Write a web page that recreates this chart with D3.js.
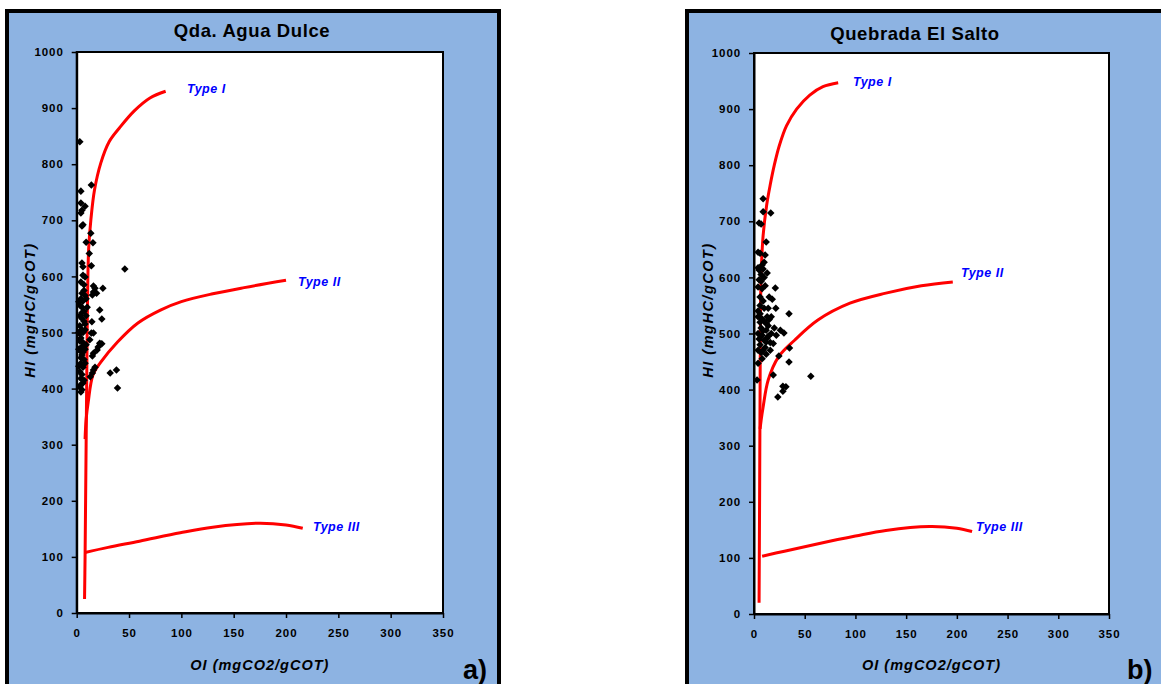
<!DOCTYPE html>
<html><head><meta charset="utf-8">
<script src="https://cdn.jsdelivr.net/npm/d3@7"></script>
<style>body{margin:0;background:#fff;}svg{display:block;}</style>
</head><body>
<svg id="c" width="1161" height="684"></svg>
<script>
// ---------- data ----------
const panelTitles = ["Qda. Agua Dulce", "Quebrada El Salto"];
const panelTags = ["a)", "b)"];
const xTicks = [0, 50, 100, 150, 200, 250, 300, 350];
const yTicks = [0, 100, 200, 300, 400, 500, 600, 700, 800, 900, 1000];
const xTitle = "OI (mgCO2/gCOT)";
const yTitle = "HI (mgHC/gCOT)";
const curveNames = ["Type I", "Type II", "Type III"];

// Panel a) samples
const oiA = [3,14,4,4,8,5,4,6,5,13.5,15.5,9,12,5,14,6,46,6,8,4,7,
  16,17.5,16,19,15,25,5,8,6,3,5,7,22,24,14.5,3,5,7,3,5,3,
  14,16,12.5,22,24,20.5,19.5,16,15,4,6,5,3,5,7,4,6,3,5,4,6,3,5,
  17.5,16,15,13,32,38,39,3,4,2,8,9,2,9,8,2,7,2,9,10,8,6,4,7,5,3,6,4,8];
const hiA = [840,763,752,731,725,718,713,692,690,677,660,661,641,624,619,617,613,602,599,590,585,
  583,579,572,570,567,579,570,566,556,549,545,538,540,524,519,530,525,520,512,505,498,
  499,499,487,481,480,474,469,463,458,490,482,475,468,460,452,445,438,430,425,418,410,405,398,
  438,433,428,421,428,433,401,403,394,470,505,530,555,478,445,440,415,500,560,545,470,500,560,575,535,485,465,455,515];

// Panel b) samples
const oiB = [9,9,16.5,5,7,12,4,6,11,10,8,4,5,9,13,5,7,4,8,21,15,18,6,9,21.5,6,4,34.5,4,8,10,12,14,7,12,26,17,22,4,8,29.5,
  10,12,16,19,4,7,12,24.5,35,34.5,19,4,3,56,28.5,31.5,28.5,23.5,
  6,10,13,15,9,14,11,6,16,8,5,10,7,11,14,17,20,13,9,6];
const hiB = [740,717,715,697,695,663,645,643,640,627,622,617,613,615,608,596,593,583,580,581,565,561,565,558,545,550,540,535,530,526,522,518,514,510,506,506,500,497,500,497,501,
  488,485,484,482,470,466,463,460,474,449,426,447,417,424,406,405,397,387,
  535,545,530,525,505,495,475,480,470,455,490,600,605,585,545,530,510,492,470,520];

// Reference kerogen curves [OI, HI]
const typeIA = [[7.5,25],[8,100],[8.5,200],[9,300],[9.5,400],[10,500],[10.5,580],[11.5,652],[13.5,700],[17,754],[23,802],[31,840],[41,865],[55,895],[70,918],[85,930]];
const typeIIA = [[8,310],[9,345],[11,376],[15.5,424],[23,447],[39,483],[58.5,517],[80,540],[100,555],[130,569],[160,580],[200,593]];
const typeIIIA = [[8,108],[30,117],[60,128],[99,143],[130,153],[173,160],[200,157],[216,151]];
const typeIB = [[5,20],[5.5,200],[6,400],[6.5,560],[7.5,627],[9,675],[12.5,729],[16,765],[20,800],[25,835],[32,870],[42,900],[55,925],[68,940],[83,947]];
const typeIIB = [[6,330],[7,345],[9,369],[14,417],[24,458],[40,488],[63,524],[94.6,554],[130,572],[165,585],[196,592]];
const typeIIIB = [[8,103],[30,112],[60,124],[100,139],[130,149],[173,156],[200,153],[215,147]];

// ---------- layout ----------
const panels = [
  {frame:[7,11,499,700], plot:[76.7,52,443,613], title:[252,37], tag:[463,679], yT:[35,310],
   oi:oiA, hi:hiA, curves:[typeIA,typeIIA,typeIIIA], labels:[[187,93],[298,286],[313,531]]},
  {frame:[687,11,1175,700], plot:[754,53,1109,614], title:[915,40], tag:[1127,679], yT:[713,310],
   oi:oiB, hi:hiB, curves:[typeIB,typeIIB,typeIIIB], labels:[[853,86],[961,277],[976,531]]}
];

const svg = d3.select("#c");
const font = "'Liberation Sans', Arial, sans-serif";

panels.forEach((p, i) => {
  const [fx0, fy0, fx1, fy1] = p.frame;
  svg.append("rect").attr("x", fx0).attr("y", fy0).attr("width", fx1 - fx0).attr("height", fy1 - fy0)
    .attr("fill", "#8DB3E2").attr("stroke", "#000").attr("stroke-width", 4);

  const [px0, py0, px1, py1] = p.plot;
  const x = d3.scaleLinear().domain([0, 350]).range([px0, px1]);
  const y = d3.scaleLinear().domain([0, 1000]).range([py1, py0]);

  svg.append("rect").attr("x", px0).attr("y", py0).attr("width", px1 - px0).attr("height", py1 - py0)
    .attr("fill", "#fff").attr("stroke", "#000").attr("stroke-width", 2);

  const g = svg.append("g");
  const xa = g.append("g").attr("transform", `translate(0,${py1})`)
    .call(d3.axisBottom(x).tickValues(xTicks).tickFormat(d3.format("d")).tickSize(5).tickPadding(11).tickSizeOuter(0));
  const ya = g.append("g").attr("transform", `translate(${px0},0)`)
    .call(d3.axisLeft(y).tickValues(yTicks).tickFormat(d3.format("d")).tickSize(5).tickPadding(8).tickSizeOuter(0));
  [xa, ya].forEach(a => {
    a.select(".domain").attr("stroke", "#000").attr("stroke-width", 2);
    a.selectAll(".tick line").attr("stroke", "#000").attr("stroke-width", 1.5);
    a.selectAll(".tick text").attr("fill", "#000").style("font-family", font)
      .style("font-size", "11.5px").style("font-weight", "bold").style("letter-spacing", "0.9px");
  });

  // curves
  const line = d3.line().x(d => x(d[0])).y(d => y(d[1])).curve(d3.curveCatmullRom.alpha(0.5));
  p.curves.forEach(c => {
    g.append("path").datum(c).attr("d", line).attr("fill", "none")
      .attr("stroke", "#FF0000").attr("stroke-width", 3).attr("stroke-linecap", "butt");
  });

  // points
  const sym = d3.symbol().type(d3.symbolDiamond2).size(36);
  g.selectAll("path.pt").data(d3.range(p.oi.length)).join("path").attr("class", "pt")
    .attr("transform", k => `translate(${x(p.oi[k])},${y(p.hi[k])})`)
    .attr("d", sym).attr("fill", "#000");

  // curve labels
  p.labels.forEach((l, k) => {
    svg.append("text").attr("x", l[0]).attr("y", l[1]).text(curveNames[k])
      .attr("fill", "#0000FF").style("font-family", font).style("font-size", "12.5px")
      .style("font-weight", "bold").style("font-style", "italic").style("letter-spacing", "0.5px");
  });

  // titles
  svg.append("text").attr("x", p.title[0]).attr("y", p.title[1]).attr("text-anchor", "middle")
    .text(panelTitles[i]).style("font-family", font).style("font-size", "18.5px")
    .style("font-weight", "bold").style("letter-spacing", "0.6px");
  svg.append("text").attr("x", (px0 + px1) / 2).attr("y", 670).attr("text-anchor", "middle")
    .text(xTitle).style("font-family", font).style("font-size", "14.5px")
    .style("font-weight", "bold").style("font-style", "italic").style("letter-spacing", "1px");
  svg.append("text").attr("transform", `translate(${p.yT[0]},${p.yT[1]}) rotate(-90)`).attr("text-anchor", "middle")
    .text(yTitle).style("font-family", font).style("font-size", "14.5px")
    .style("font-weight", "bold").style("font-style", "italic").style("letter-spacing", "1.5px");
  svg.append("text").attr("x", p.tag[0]).attr("y", p.tag[1]).text(panelTags[i])
    .style("font-family", font).style("font-size", "27px").style("font-weight", "bold");
});
</script>
</body></html>
